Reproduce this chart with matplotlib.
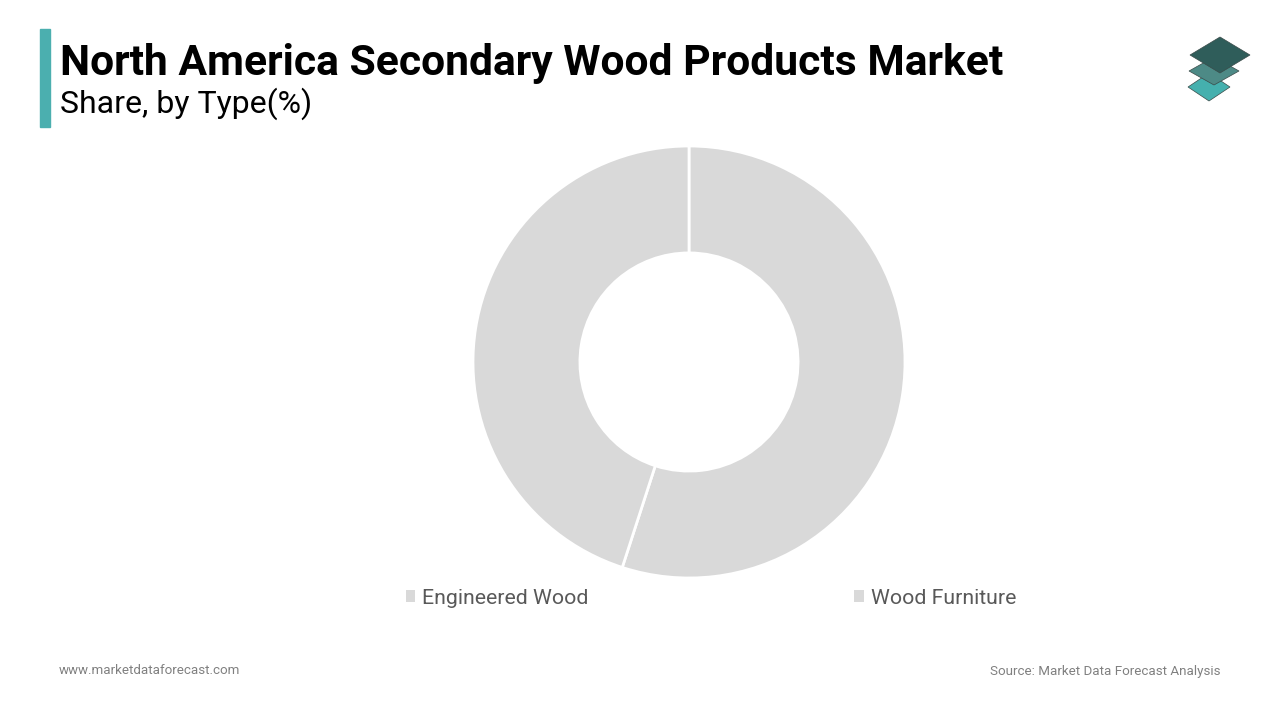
import matplotlib.pyplot as plt
from matplotlib.patches import Polygon, Rectangle, Patch

plt.rcParams['font.family'] = ['Roboto', 'DejaVu Sans']

# data
types = ['Engineered Wood', 'Wood Furniture']
shares = [55, 45]
colors = ['#D9D9D9', '#D9D9D9']

W, H = 1280, 720
fig = plt.figure(figsize=(12.8, 7.2), dpi=100, facecolor='white')

def fx(x):
    return x / W

def fy(y):
    return 1 - y / H

# donut: centre (689, 362), outer radius 216 px
cx, cy, rad = 689, 362, 216
ax = fig.add_axes([fx(cx - rad), fy(cy + rad), 2 * rad / W, 2 * rad / H])
wedges, _ = ax.pie(shares, colors=colors, startangle=90, counterclock=False,
                   radius=1, wedgeprops=dict(width=0.495, edgecolor='white', linewidth=2))
ax.set_xlim(-1, 1)
ax.set_ylim(-1, 1)
ax.set_aspect('equal')
ax.axis('off')

# legend (proxy squares without the white wedge edge)
handles = [Patch(facecolor=c, edgecolor='none') for c in colors]
fig.legend(handles, types, loc='center', bbox_to_anchor=(fx(711), fy(598)), ncol=2,
           frameon=False, fontsize=15.3, labelcolor='#595959',
           handlelength=0.45, handleheight=0.45, handletextpad=0.33,
           columnspacing=12.5)

# title block
fig.patches.append(Rectangle((fx(40), fy(127)), fx(10), (127 - 29) / H,
                             transform=fig.transFigure, color='#4BAFAF'))
fig.text(fx(60), fy(75), 'North America Secondary Wood Products Market',
         fontsize=30.7, fontweight='bold', color='black', va='baseline')
fig.text(fx(60), fy(113), 'Share, by Type(%)', fontsize=23, color='black', va='baseline')

# logo - three stacked diamonds
logo = [(1209, 87, 21, 14, '#45B0AE'),
        (1214, 71, 25, 14, '#4D8A86'),
        (1220, 55, 30, 18, '#2F5D5A')]
for lx, ly, lw, lh, c in logo:
    pts = [(fx(lx - lw), fy(ly)), (fx(lx), fy(ly - lh)),
           (fx(lx + lw), fy(ly)), (fx(lx), fy(ly + lh))]
    fig.patches.append(Polygon(pts, closed=True, transform=fig.transFigure,
                               facecolor=c, edgecolor='#3a4a48', linewidth=0.5))

# footer
fig.text(fx(59), fy(671), 'www.marketdataforecast.com', fontsize=9.6, color='#808080', va='center')
fig.text(fx(1220), fy(671), 'Source: Market Data Forecast Analysis', fontsize=9.6,
         color='#808080', va='center', ha='right')

plt.savefig('out.png', dpi=100, facecolor='white')
